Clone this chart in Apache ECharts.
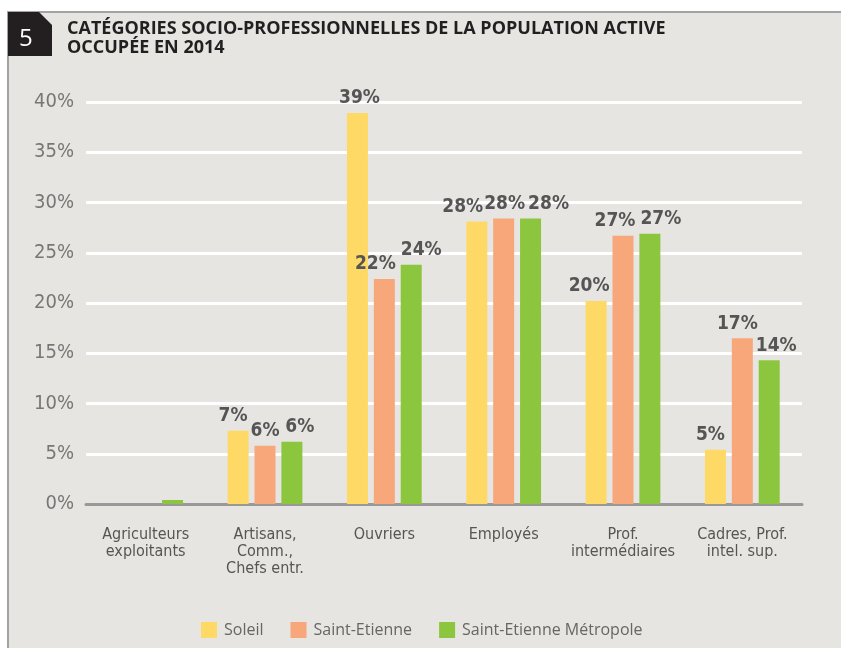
<!DOCTYPE html>
<html>
<head>
<meta charset="utf-8">
<script src="https://cdn.jsdelivr.net/npm/echarts@6/dist/echarts.min.js"></script>
<style>
  html, body { margin: 0; padding: 0; background: #fff; }
  #chart { width: 841px; height: 648px; }
</style>
</head>
<body>
<div id="chart"></div>
<script>
  const categories = [
    "Agriculteurs\nexploitants",
    "Artisans,\nComm.,\nChefs entr.",
    "Ouvriers",
    "Employés",
    "Prof.\nintermédiaires",
    "Cadres, Prof.\nintel. sup.",
  ];
  const soleil = [0, 7.3, 38.9, 28.1, 20.2, 5.4];
  const saintEtienne = [0, 5.8, 22.4, 28.4, 26.7, 16.5];
  const metropole = [0.4, 6.2, 23.8, 28.4, 26.9, 14.3];
  const yTicks = [0, 5, 10, 15, 20, 25, 30, 35, 40];

  // horizontal nudges of the value labels, so they don't collide (as in the print)
  const shiftSoleil = [0, -5, 2, -14, -7, -5];
  const shiftSaintEtienne = [0, 0, -9, 1, -8, -5];
  const shiftMetropole = [0, 8, 10, 18, 11, 7];

  const condensed = '"DejaVu Sans Condensed", "DejaVu Sans", sans-serif';

  const chart = echarts.init(document.getElementById("chart"));

  function makeSeries(name, values, color, shifts) {
    return {
      name: name,
      type: "bar",
      data: values.map((v, i) => ({ value: v, label: { offset: [shifts[i], 0] } })),
      barWidth: 21,
      barGap: "28%",
      itemStyle: { color: color },
      label: {
        show: true,
        position: "top",
        distance: 5,
        color: "#555",
        fontFamily: condensed,
        fontStyle: "condensed",
        fontWeight: "bold",
        fontSize: 19,
        formatter: (p) => (p.value >= 1 ? Math.round(p.value) + "%" : ""),
      },
    };
  }

  chart.setOption({
    backgroundColor: "#fff",
    animation: false,
    graphic: [
      {
        type: "rect",
        z: -10,
        shape: { x: 8, y: 12, width: 840, height: 640 },
        style: { fill: "#e6e5e1", stroke: "#a3a3a3", lineWidth: 2 },
      },
      {
        type: "polygon",
        shape: { points: [[8, 12], [39, 12], [52, 25], [52, 56], [8, 56]] },
        style: { fill: "#231f20" },
      },
      {
        type: "text",
        left: 19,
        top: 27,
        style: {
          text: "5",
          fill: "#fff",
          font: '24px "Open Sans", sans-serif',
        },
      },
      {
        type: "text",
        left: 67,
        top: 19,
        style: {
          text: "CATÉGORIES SOCIO-PROFESSIONNELLES DE LA POPULATION ACTIVE\nOCCUPÉE EN 2014",
          fill: "#231f20",
          font: 'bold 18px "Open Sans", sans-serif',
          lineHeight: 19,
        },
      },
    ],
    legend: {
      left: 196,
      top: 617,
      itemWidth: 16,
      itemHeight: 16,
      itemGap: 27,
      icon: "rect",
      textStyle: {
        color: "#666",
        fontSize: 16,
        fontFamily: '"Open Sans", sans-serif',
        padding: [0, 0, 0, 2],
      },
      data: ["Soleil", "Saint-Etienne", "Saint-Etienne Métropole"],
    },
    grid: { left: 86, right: 39, top: 102, bottom: 144, containLabel: false },
    xAxis: {
      type: "category",
      data: categories,
      axisLine: { lineStyle: { color: "#999", width: 3 } },
      axisTick: { show: false },
      axisLabel: {
        color: "#555",
        fontFamily: condensed,
        fontStyle: "condensed",
        fontSize: 16,
        lineHeight: 17,
        margin: 22,
        interval: 0,
      },
    },
    yAxis: {
      type: "value",
      min: yTicks[0],
      max: yTicks[yTicks.length - 1],
      interval: 5,
      axisLine: { show: false },
      axisTick: { show: false },
      splitLine: { lineStyle: { color: "#fff", width: 3 } },
      axisLabel: {
        color: "#777",
        fontFamily: condensed,
        fontStyle: "condensed",
        fontSize: 20,
        margin: 12,
        formatter: "{value}%",
      },
    },
    series: [
      makeSeries("Soleil", soleil, "#ffd966", shiftSoleil),
      makeSeries("Saint-Etienne", saintEtienne, "#f7a77a", shiftSaintEtienne),
      makeSeries("Saint-Etienne Métropole", metropole, "#8cc63f", shiftMetropole),
    ],
  });
</script>
</body>
</html>
